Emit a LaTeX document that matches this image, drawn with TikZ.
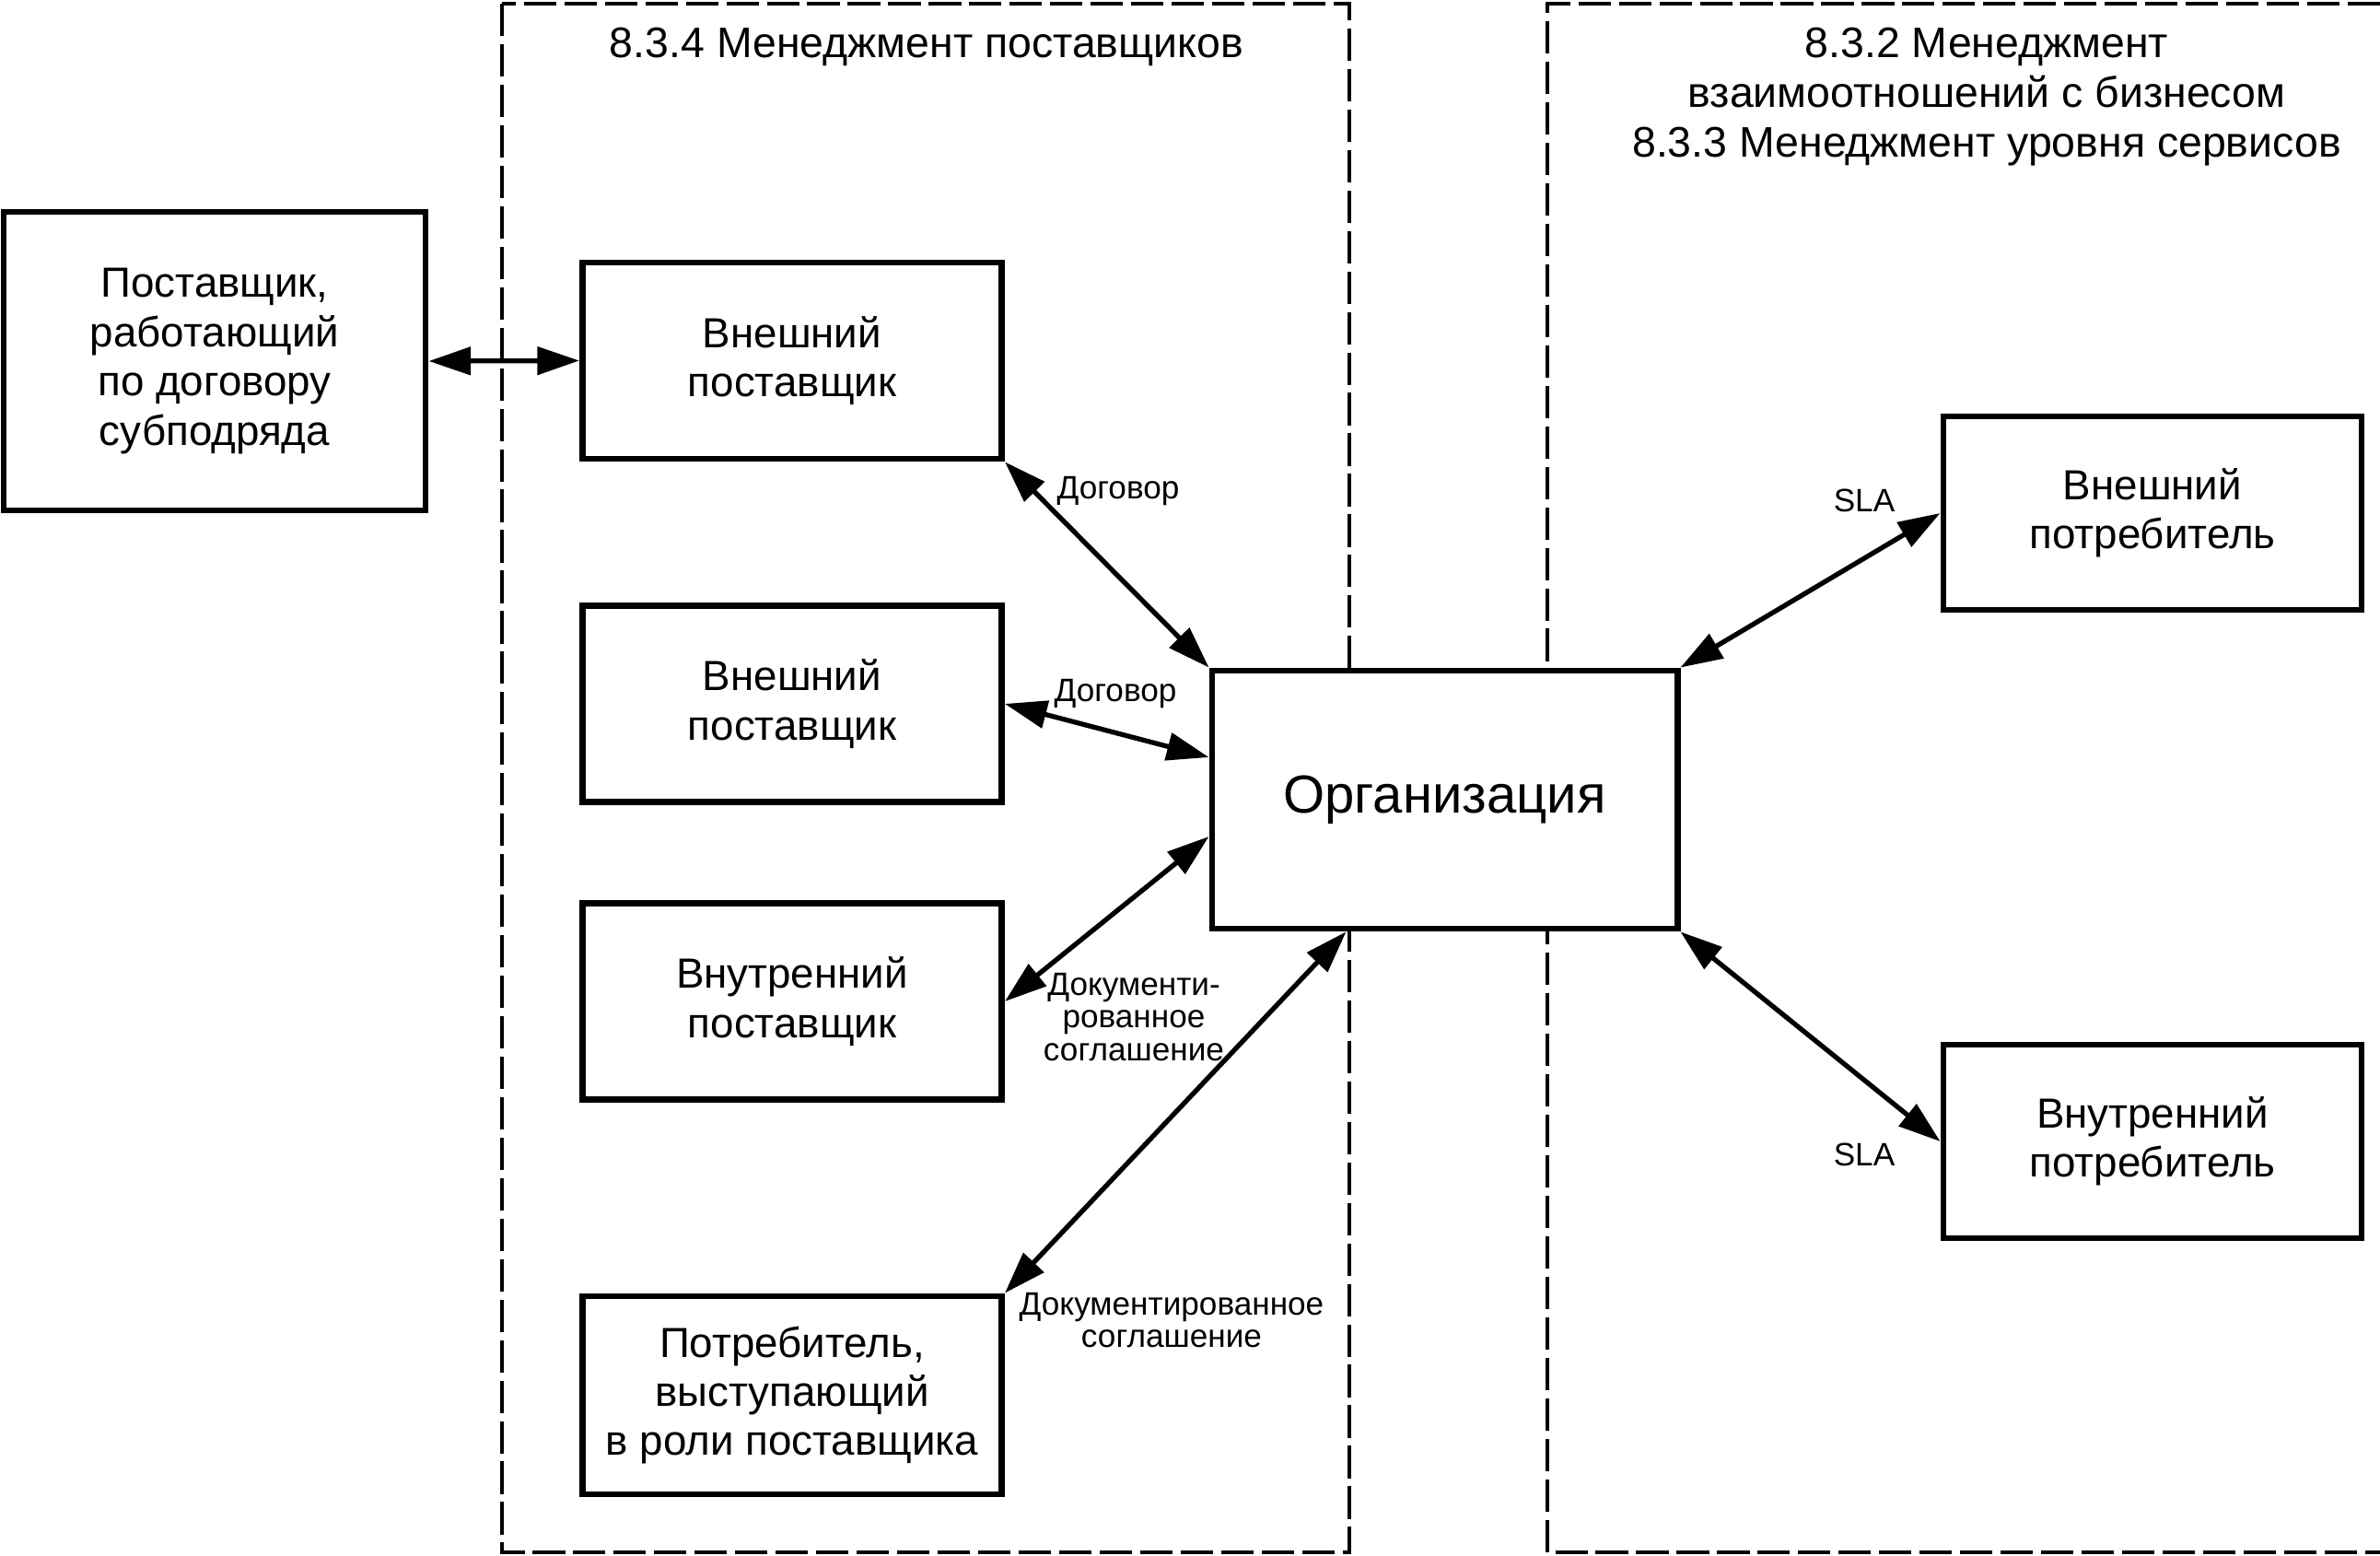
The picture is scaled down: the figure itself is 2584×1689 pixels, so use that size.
\documentclass[tikz,border=0pt]{standalone}
\usepackage{fontspec}
\setmainfont{Liberation Sans}
\usetikzlibrary{arrows.meta}

\begin{document}
\begin{tikzpicture}[x=0.01cm, y=-0.01cm,
  box/.style={draw, line width=1.9pt, fill=white, inner sep=0pt, align=center,
    font=\fontsize{13}{15.2}\selectfont, minimum width=4.55cm, minimum height=2.13cm},
  frame/.style={line width=1.2pt, dash pattern=on 10pt off 2.5pt},
  link/.style={line width=1.5pt, {Triangle[length=13pt,width=8.5pt]}-{Triangle[length=13pt,width=8.5pt]}},
  lbl/.style={align=center, inner sep=0pt, font=\fontsize{10}{10}\selectfont},
  ttl/.style={align=center, inner sep=0pt, font=\fontsize{13.2}{15.4}\selectfont}]
  \useasboundingbox (0,0) rectangle (2584,1689);

  % dashed areas
  \draw[frame] (545,4) rectangle (1465,1685);
  \draw[frame] (2584,4) -| (1680,1685) -- (2584,1685);
  \node[ttl] (supttl) at (1006,51) {8.3.4 Менеджмент поставщиков};
  \node[ttl] (busttl) at (2157,105) {8.3.2 Менеджмент\\взаимоотношений с бизнесом\\8.3.3 Менеджмент уровня сервисов};

  % boxes
  \node[box, minimum width=4.58cm, minimum height=3.24cm] (sub) at (233,392) {Поставщик,\\работающий\\по договору\\субподряда};
  \node[box] (ext1) at (860,391.5) {Внешний\\поставщик};
  \node[box] (ext2) at (860,764) {Внешний\\поставщик};
  \node[box] (intsup) at (860,1087) {Внутренний\\поставщик};
  \node[box, minimum height=2.15cm] (custsup) at (860,1514.5) {Потребитель,\\выступающий\\в роли поставщика};
  \node[box, minimum width=5.05cm, minimum height=2.8cm, font=\fontsize{16.5}{19}\selectfont] (org) at (1568.5,868) {Организация};
  \node[box, minimum width=4.54cm, minimum height=2.1cm] (extcust) at (2337,557) {Внешний\\потребитель};
  \node[box, minimum width=4.54cm, minimum height=2.1cm] (intcust) at (2337,1239) {Внутренний\\потребитель};

  % connections
  \draw[link] (sub.east) -- (ext1.west);
  \draw[link] (ext1.south east) -- (org.north west);
  \draw[link] (ext2.east) -- ([yshift=0.46cm]org.west);
  \draw[link] (intsup.east) -- ([yshift=-0.4cm]org.west);
  \draw[link] (custsup.north east) -- ([xshift=-1.07cm]org.south);
  \draw[link] (org.north east) -- (extcust.west);
  \draw[link] (org.south east) -- (intcust.west);

  % labels
  \node[lbl] (dog1) at (1214,533) {Договор};
  \node[lbl] (dog2) at (1211,753) {Договор};
  \node[lbl] (doc1) at (1231,1104) {Документи-\\рованное\\соглашение};
  \node[lbl] (doc2) at (1272,1433) {Документированное\\соглашение};
  \node[lbl] (sla1) at (2024,543) {SLA};
  \node[lbl] (sla2) at (2024,1253) {SLA};
\end{tikzpicture}
\end{document}
